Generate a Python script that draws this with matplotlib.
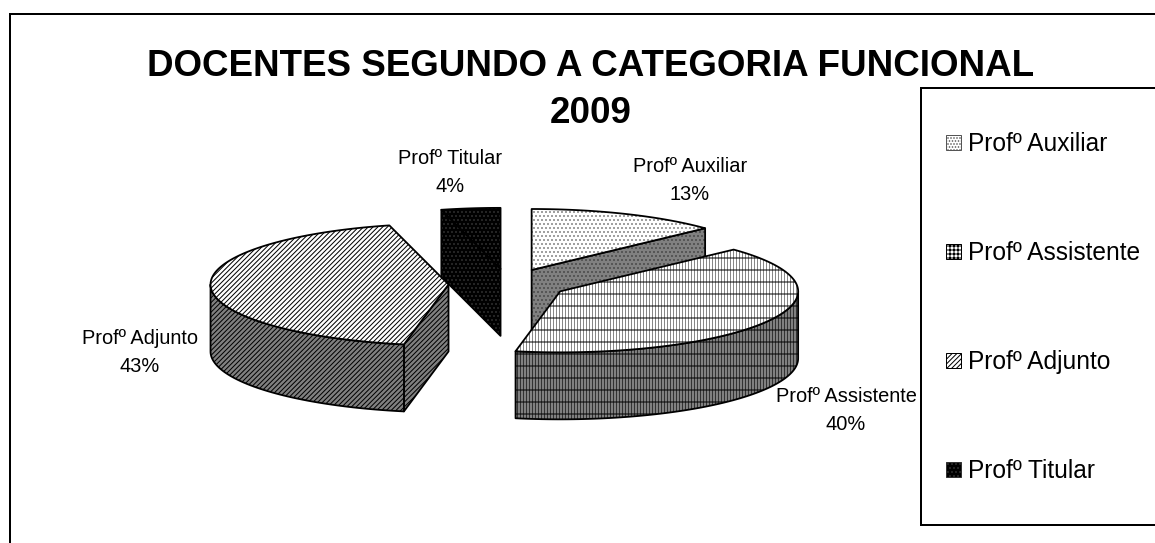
import numpy as np
import matplotlib
matplotlib.use("Agg")
import matplotlib.pyplot as plt
from matplotlib.patches import Polygon, Patch, Rectangle

plt.rcParams['font.family'] = ['Liberation Sans', 'DejaVu Sans']
plt.rcParams['hatch.linewidth'] = 1.0

title = "DOCENTES SEGUNDO A CATEGORIA FUNCIONAL\n2009"
categories = ["Profº Auxiliar", "Profº Assistente", "Profº Adjunto", "Profº Titular"]
values = [13, 40, 43, 4]

CX, CY, RX, RY, DEPTH, EXPLODE = 508, 284, 238, 61, 67, 0.25
label_pos = [(690, 181), (846, 410), (140, 353), (450, 173)]
top_style = [
    [('white', '#777777', '...')],
    [('white', '#888888', '||||'), ('none', 'black', '-')],
    [('white', 'black', '/////')],
    [('black', '#333333', '...')],
]
side_style = [
    [('#808080', '#444444', '...')],
    [('#808080', '#333333', '||||'), ('none', 'black', '-')],
    [('#808080', 'black', '/////')],
    [('black', '#333333', '...')],
]
legend_hatch = ['....', '+++', '/////', '...']
legend_face = ['white', 'white', 'white', 'black']
legend_edge = ['#555555', 'black', 'black', '#333333']
draw_order = [3, 0, 2, 1]

W, H, DPI = 1155, 543, 72
fig = plt.figure(figsize=(W / DPI, H / DPI), dpi=DPI, facecolor='white')
ax = fig.add_axes([0, 0, 1, 1])
ax.set_xlim(0, W)
ax.set_ylim(H, 0)
ax.axis('off')

ax.add_patch(Rectangle((9.5, 13.5), W + 20, 600, fc='white', ec='black', lw=2, zorder=0))
ax.add_patch(Rectangle((921, 88), W, 437, fc='white', ec='black', lw=2, zorder=60))


def pt(cx, cy, deg):
    a = np.radians(deg)
    return np.column_stack([cx + RX * np.sin(a), cy - RY * np.cos(a)])


def fill(xy, styles, z):
    for fc, ec, hatch in styles:
        ax.add_patch(Polygon(xy, closed=True, fc=fc, ec=ec, hatch=hatch, lw=0, zorder=z))
    ax.add_patch(Polygon(xy, closed=True, fc='none', ec='black', lw=1.8, joinstyle='round', zorder=z))


edges = np.concatenate([[0], np.cumsum(values) / np.sum(values) * 360])
for z, i in enumerate(draw_order):
    a0, a1 = edges[i], edges[i + 1]
    mid = np.radians((a0 + a1) / 2)
    cx = CX + EXPLODE * RX * np.sin(mid)
    cy = CY - EXPLODE * RY * np.cos(mid)
    base = 10 + z * 10
    centre = np.array([[cx, cy]])
    drop = np.array([0, DEPTH])
    for a, normal in ((a0, a0 - 90), (a1, a1 + 90)):
        if np.cos(np.radians(normal)) < -1e-9:
            face = np.vstack([centre, pt(cx, cy, a)])
            fill(np.vstack([face, face[::-1] + drop]), side_style[i], base)
    w0, w1 = max(a0, 90), min(a1, 270)
    if w1 > w0:
        arc = pt(cx, cy, np.linspace(w0, w1, 80))
        fill(np.vstack([arc, arc[::-1] + drop]), side_style[i], base + 1)
    arc = pt(cx, cy, np.linspace(a0, a1, 120))
    fill(np.vstack([centre, arc]), top_style[i], base + 2)

for name, v, (x, y) in zip(categories, values, label_pos):
    ax.text(x, y, f"{name}\n{v}%", ha='center', va='center', fontsize=20,
            linespacing=1.6, color='black', zorder=80)

ax.text(591, 90, title, ha='center', va='center', fontsize=36.7, fontweight='bold',
        linespacing=1.44, color='black', zorder=80)

handles = [Patch(fc=f, ec=e, hatch=h, lw=1) for f, e, h in zip(legend_face, legend_edge, legend_hatch)]
leg = ax.legend(handles, categories, loc='upper left', bbox_to_anchor=(946 / W, 1 - 132 / H),
                bbox_transform=fig.transFigure, fontsize=24.5, frameon=False,
                handlelength=0.6, handleheight=0.6, handletextpad=0.29, labelspacing=3.47,
                borderpad=0, borderaxespad=0, labelcolor='black')
leg.set_zorder(70)

fig.savefig("out.png", dpi=DPI, facecolor='white')
